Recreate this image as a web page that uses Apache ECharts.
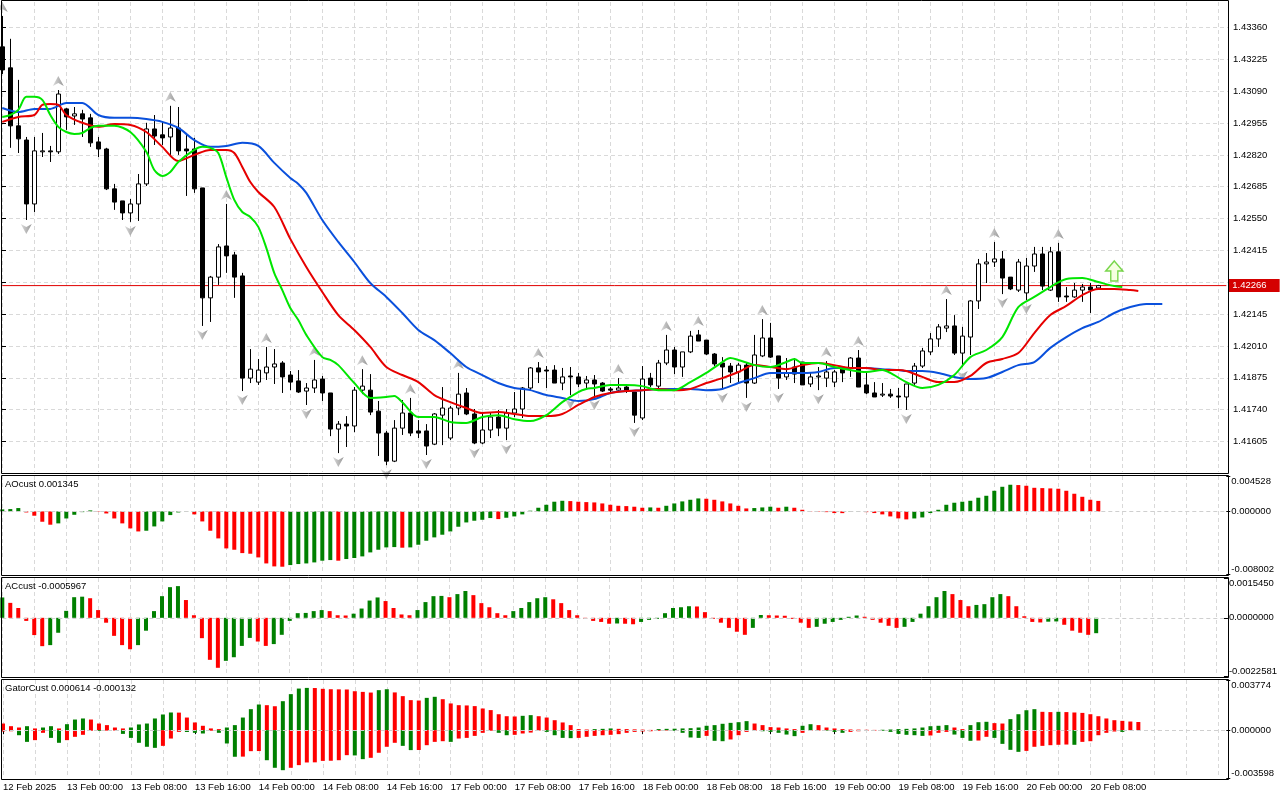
<!DOCTYPE html>
<html>
<head>
<meta charset="utf-8">
<script src="https://cdn.jsdelivr.net/npm/echarts@6/dist/echarts.min.js"></script>
<style>html,body{margin:0;padding:0;background:#fff}#chart{width:1280px;height:800px}</style>
</head>
<body>
<div id="chart"></div>
<script>
// hourly bars, index 0 = 12 Feb 16:00, one label every 8 bars
const barCount = 154;
const categories = Array.from({ length: barCount }, (_, i) => String(i));
const tickLabels = ['12 Feb 2025', '13 Feb 00:00', '13 Feb 08:00', '13 Feb 16:00', '14 Feb 00:00', '14 Feb 08:00',
  '14 Feb 16:00', '17 Feb 00:00', '17 Feb 08:00', '17 Feb 16:00', '18 Feb 00:00', '18 Feb 08:00', '18 Feb 16:00',
  '19 Feb 00:00', '19 Feb 08:00', '19 Feb 16:00', '20 Feb 00:00', '20 Feb 08:00'];

// [open, close, low, high]
const candles = [
  [1.43278,1.43180,1.43163,1.43409],[1.43189,1.42943,1.42850,1.43312],[1.42943,1.42888,1.42828,1.43138],[1.42883,1.42612,1.42544,1.42896],[1.42612,1.42837,1.42578,1.42896],
  [1.42833,1.42837,1.42811,1.42913],[1.42837,1.42833,1.42790,1.42858],[1.42833,1.43078,1.42824,1.43095],[1.43015,1.42981,1.42926,1.43019],[1.42985,1.42994,1.42947,1.43023],
  [1.42994,1.42972,1.42896,1.43011],[1.42977,1.42871,1.42854,1.42994],[1.42875,1.42845,1.42811,1.42896],[1.42845,1.42676,1.42671,1.42850],[1.42676,1.42620,1.42587,1.42697],
  [1.42625,1.42574,1.42544,1.42625],[1.42574,1.42612,1.42536,1.42633],[1.42612,1.42697,1.42540,1.42739],[1.42697,1.42930,1.42688,1.42956],[1.42930,1.42900,1.42862,1.42989],
  [1.42905,1.42892,1.42862,1.42960],[1.42896,1.42934,1.42811,1.43028],[1.42934,1.42837,1.42820,1.43023],[1.42845,1.42837,1.42646,1.42913],[1.42845,1.42676,1.42659,1.42892],
  [1.42680,1.42214,1.42095,1.42680],[1.42214,1.42302,1.42112,1.42307],[1.42302,1.42430,1.42269,1.42442],[1.42434,1.42392,1.42320,1.42612],[1.42396,1.42302,1.42214,1.42409],
  [1.42307,1.41874,1.41819,1.42320],[1.41874,1.41912,1.41853,1.41997],[1.41857,1.41908,1.41845,1.41955],[1.41896,1.41921,1.41866,1.42006],[1.41921,1.41934,1.41849,1.41997],
  [1.41938,1.41879,1.41811,1.41946],[1.41887,1.41857,1.41823,1.41904],[1.41862,1.41815,1.41811,1.41908],[1.41819,1.41832,1.41760,1.41853],[1.41832,1.41866,1.41811,1.41951],
  [1.41870,1.41811,1.41777,1.41883],[1.41811,1.41658,1.41628,1.41811],[1.41658,1.41679,1.41556,1.41692],[1.41679,1.41671,1.41582,1.41713],[1.41671,1.41823,1.41645,1.41836],
  [1.41823,1.41840,1.41806,1.41912],[1.41823,1.41730,1.41717,1.41891],[1.41734,1.41641,1.41544,1.41777],[1.41641,1.41522,1.41505,1.41650],[1.41522,1.41662,1.41518,1.41696],
  [1.41662,1.41726,1.41633,1.41781],[1.41726,1.41641,1.41628,1.41790],[1.41650,1.41641,1.41620,1.41696],[1.41650,1.41586,1.41548,1.41679],[1.41594,1.41722,1.41590,1.41726],
  [1.41717,1.41747,1.41590,1.41836],[1.41620,1.41747,1.41611,1.41756],[1.41747,1.41806,1.41717,1.41896],[1.41811,1.41722,1.41717,1.41832],[1.41722,1.41599,1.41594,1.41743],
  [1.41599,1.41654,1.41594,1.41726],[1.41654,1.41709,1.41620,1.41726],[1.41709,1.41662,1.41628,1.41739],[1.41662,1.41726,1.41611,1.41743],[1.41726,1.41743,1.41709,1.41815],
  [1.41743,1.41832,1.41705,1.41836],[1.41832,1.41917,1.41823,1.41921],[1.41917,1.41900,1.41853,1.41942],[1.41908,1.41904,1.41832,1.41925],[1.41908,1.41853,1.41853,1.41929],
  [1.41853,1.41879,1.41823,1.41917],[1.41883,1.41879,1.41802,1.41921],[1.41879,1.41849,1.41836,1.41896],[1.41853,1.41866,1.41832,1.41883],[1.41866,1.41849,1.41798,1.41887],
  [1.41853,1.41819,1.41815,1.41857],[1.41828,1.41823,1.41811,1.41836],[1.41823,1.41832,1.41815,1.41874],[1.41836,1.41823,1.41811,1.41840],[1.41815,1.41717,1.41684,1.41815],
  [1.41705,1.41870,1.41696,1.41925],[1.41874,1.41845,1.41836,1.41896],[1.41840,1.41938,1.41832,1.41951],[1.41938,1.41993,1.41929,1.42057],[1.41993,1.41921,1.41891,1.42006],
  [1.41921,1.41985,1.41879,1.41985],[1.41985,1.42052,1.41980,1.42074],[1.42057,1.42031,1.42031,1.42078],[1.42035,1.41976,1.41972,1.42035],[1.41976,1.41934,1.41925,1.41980],
  [1.41938,1.41921,1.41828,1.41963],[1.41925,1.41900,1.41853,1.41938],[1.41900,1.41929,1.41853,1.41938],[1.41929,1.41853,1.41790,1.41942],[1.41853,1.41972,1.41849,1.42057],
  [1.41968,1.42044,1.41963,1.42124],[1.42044,1.41963,1.41959,1.42108],[1.41968,1.41874,1.41828,1.41968],[1.41879,1.41896,1.41866,1.41959],[1.41921,1.41891,1.41853,1.41959],
  [1.41942,1.41845,1.41845,1.41942],[1.41849,1.41879,1.41836,1.41896],[1.41879,1.41883,1.41823,1.41921],[1.41874,1.41900,1.41836,1.41946],[1.41857,1.41900,1.41836,1.41908],
  [1.41921,1.41896,1.41857,1.41925],[1.41917,1.41959,1.41879,1.41963],[1.41959,1.41836,1.41836,1.41993],[1.41845,1.41811,1.41806,1.41896],[1.41811,1.41794,1.41794,1.41857],
  [1.41802,1.41806,1.41794,1.41853],[1.41806,1.41798,1.41790,1.41828],[1.41798,1.41794,1.41747,1.41832],[1.41794,1.41849,1.41739,1.41849],[1.41853,1.41925,1.41845,1.41938],
  [1.41925,1.41989,1.41917,1.42002],[1.41985,1.42040,1.41972,1.42065],[1.42040,1.42091,1.42006,1.42103],[1.42086,1.42095,1.42069,1.42209],[1.42095,1.41980,1.41972,1.42141],
  [1.41980,1.42052,1.41921,1.42091],[1.42048,1.42201,1.41972,1.42205],[1.42201,1.42358,1.42167,1.42379],[1.42358,1.42366,1.42277,1.42404],[1.42366,1.42379,1.42345,1.42451],
  [1.42379,1.42298,1.42230,1.42413],[1.42302,1.42252,1.42247,1.42302],[1.42247,1.42366,1.42239,1.42379],[1.42235,1.42349,1.42205,1.42383],[1.42349,1.42400,1.42324,1.42430],
  [1.42400,1.42264,1.42247,1.42430],[1.42247,1.42409,1.42243,1.42430],[1.42409,1.42218,1.42197,1.42447],[1.42222,1.42218,1.42197,1.42260],[1.42218,1.42247,1.42214,1.42277],
  [1.42247,1.42260,1.42197,1.42273],[1.42260,1.42247,1.42150,1.42277],[1.42256,1.42266,1.42252,1.42269]
];
const currentPrice = 1.42266;

// alligator lines, read as [bar, price]
const jaw = [[0,1.43019],[2,1.43002],[4,1.43015],[6,1.43015],[8,1.43040],[10,1.43040],[12,1.42989],[14,1.42977],[16,1.42977],[18,1.42972],
  [20,1.42960],[22,1.42934],[24,1.42883],[26,1.42854],[28,1.42858],[30,1.42871],[32,1.42858],[34,1.42786],[36,1.42722],[37,1.42697],
  [38,1.42659],[40,1.42544],[42,1.42451],[44,1.42366],[46,1.42277],[48,1.42218],[50,1.42150],[52,1.42078],[54,1.42035],[56,1.41980],
  [58,1.41921],[60,1.41887],[62,1.41853],[64,1.41832],[66,1.41823],[68,1.41802],[70,1.41790],[72,1.41777],[74,1.41785],[76,1.41811],
  [78,1.41819],[80,1.41823],[82,1.41828],[84,1.41828],[86,1.41828],[88,1.41823],[90,1.41828],[92,1.41853],[94,1.41874],[96,1.41896],
  [98,1.41896],[100,1.41896],[102,1.41900],[104,1.41917],[106,1.41917],[108,1.41917],[110,1.41912],[112,1.41908],[113,1.41904],[115,1.41904],
  [117,1.41896],[119,1.41879],[121,1.41870],[123,1.41874],[125,1.41900],[127,1.41929],[129,1.41942],[131,1.42002],[133,1.42048],[135,1.42086],
  [137,1.42112],[139,1.42150],[141,1.42175],[143,1.42188],[145,1.42188]];
const teeth = [[0,1.42960],[2,1.42981],[4,1.42989],[5,1.43032],[6,1.43036],[7,1.43032],[8,1.42989],[10,1.42956],[12,1.42939],[14,1.42951],
  [16,1.42947],[18,1.42917],[20,1.42854],[22,1.42794],[24,1.42820],[26,1.42841],[28,1.42841],[29,1.42828],[30,1.42769],[31,1.42705],
  [32,1.42663],[34,1.42599],[36,1.42464],[38,1.42345],[40,1.42239],[42,1.42141],[44,1.42078],[46,1.42006],[48,1.41921],[50,1.41887],
  [52,1.41857],[54,1.41802],[56,1.41772],[58,1.41747],[60,1.41726],[62,1.41730],[64,1.41722],[66,1.41713],[68,1.41713],[70,1.41722],
  [72,1.41760],[73,1.41777],[74,1.41794],[76,1.41811],[78,1.41819],[80,1.41823],[82,1.41828],[84,1.41823],[86,1.41828],[88,1.41853],
  [90,1.41874],[92,1.41900],[94,1.41929],[96,1.41921],[98,1.41912],[100,1.41929],[102,1.41938],[104,1.41929],[106,1.41917],[108,1.41917],
  [110,1.41908],[112,1.41908],[113,1.41904],[115,1.41879],[117,1.41857],[119,1.41857],[121,1.41883],[123,1.41938],[125,1.41955],[127,1.41980],
  [129,1.42065],[131,1.42141],[133,1.42180],[135,1.42226],[137,1.42252],[139,1.42252],[141,1.42247],[142,1.42243]];
const lips = [[0,1.42981],[1,1.42989],[2,1.43011],[3,1.43066],[4,1.43066],[5,1.43053],[6,1.42989],[7,1.42939],[8,1.42917],[9,1.42909],
  [10,1.42913],[11,1.42934],[12,1.42943],[14,1.42943],[16,1.42917],[18,1.42833],[19,1.42756],[20,1.42731],[21,1.42748],[22,1.42790],
  [24,1.42841],[25,1.42854],[26,1.42850],[27,1.42828],[28,1.42726],[29,1.42629],[30,1.42578],[31,1.42557],[32,1.42515],[33,1.42426],
  [34,1.42319],[35,1.42247],[36,1.42171],[37,1.42120],[38,1.42057],[40,1.41963],[41,1.41951],[42,1.41929],[44,1.41853],[46,1.41790],
  [48,1.41794],[49,1.41798],[50,1.41772],[52,1.41709],[54,1.41709],[56,1.41688],[58,1.41684],[60,1.41709],[62,1.41717],[64,1.41700],
  [66,1.41692],[68,1.41717],[70,1.41772],[72,1.41815],[73,1.41828],[74,1.41832],[76,1.41845],[78,1.41845],[80,1.41840],[82,1.41823],
  [84,1.41823],[86,1.41857],[88,1.41896],[90,1.41942],[91,1.41959],[92,1.41951],[94,1.41929],[96,1.41921],[98,1.41942],[99,1.41955],
  [100,1.41938],[102,1.41938],[104,1.41921],[106,1.41908],[108,1.41900],[110,1.41908],[111,1.41896],[113,1.41857],[115,1.41832],[117,1.41845],
  [119,1.41887],[121,1.41963],[123,1.41993],[125,1.42048],[127,1.42175],[129,1.42218],[131,1.42260],[133,1.42294],[135,1.42298],[137,1.42281],
  [139,1.42264],[140,1.42260]];

// fractal bars
const fractalUp = [0, 7, 21, 28, 33, 39, 45, 51, 57, 67, 77, 83, 87, 95, 103, 107, 118, 124, 132];
const fractalDown = [3, 16, 25, 30, 38, 42, 48, 53, 59, 63, 71, 74, 79, 90, 93, 97, 102, 113, 120, 125, 128];
const signalBar = 139;
const signalPrice = 1.42328;

const ao = [
  0.00026,0.0003,0.00043,-0.00013,-0.00055,-0.00132,-0.0017,-0.00153,-0.0009,-0.00043,
  -0.00009,0.00013,0.00004,-0.00026,-0.0009,-0.00153,-0.00217,-0.00256,-0.00247,-0.00192,
  -0.00128,-0.00047,-0.00013,0.00004,-0.00038,-0.00128,-0.00247,-0.00345,-0.00473,-0.0049,
  -0.00533,-0.00541,-0.00588,-0.00665,-0.00703,-0.00707,-0.00686,-0.00673,-0.00665,-0.00652,
  -0.0063,-0.00622,-0.0063,-0.00609,-0.00596,-0.00575,-0.00524,-0.0049,-0.0046,-0.00456,
  -0.00464,-0.0046,-0.00426,-0.00375,-0.00332,-0.00298,-0.00256,-0.00196,-0.00141,-0.00119,
  -0.00107,-0.00085,-0.00098,-0.00081,-0.00064,-0.00038,0.00009,0.00047,0.00085,0.00124,
  0.00136,0.00132,0.00124,0.00119,0.00115,0.00102,0.00085,0.00072,0.00068,0.0006,
  0.00047,0.00051,0.00047,0.00072,0.00102,0.00128,0.00149,0.00166,0.00162,0.00149,
  0.00128,0.00102,0.00072,0.00038,0.00043,0.00051,0.0006,0.00047,0.0006,0.00047,
  0.00021,-0.00004,-0.00005,-0.00009,-0.00021,-0.00022,-0.00004,-0.00003,-0.00009,-0.00021,
  -0.00038,-0.00064,-0.00089,-0.00102,-0.0009,-0.00077,-0.00021,0.00021,0.00085,0.00111,
  0.00124,0.00136,0.00175,0.002,0.00264,0.00315,0.00341,0.00337,0.00328,0.00302,
  0.00298,0.00294,0.0029,0.00264,0.00226,0.00187,0.00149,0.001345];
const ac = [
  0.00079,0.00058,0.00038,-0.00012,-0.00067,-0.0011,-0.00106,-0.00058,0.00027,0.0008,
  0.00082,0.00076,0.0003,-0.00019,-0.0007,-0.00106,-0.00122,-0.00106,-0.0005,0.00026,
  0.00084,0.00119,0.00123,0.00069,0.0001,-0.00079,-0.00163,-0.00194,-0.00167,-0.00153,
  -0.00109,-0.00078,-0.00092,-0.00109,-0.00102,-0.00066,-0.00012,0.00018,0.00019,0.00026,
  0.0003,0.00026,0.0001,0.00009,0.00016,0.00036,0.00067,0.00079,0.00065,0.00038,
  0.00013,0.0001,0.0003,0.00061,0.00084,0.00085,0.0008,0.00092,0.00104,0.00088,
  0.00057,0.00041,0.00018,0.0001,0.00026,0.00038,0.00061,0.00076,0.0008,0.00072,
  0.00057,0.0003,0.0001,-0.00004,-0.00012,-0.00016,-0.00023,-0.00022,-0.00023,-0.00025,
  -0.00016,-0.00008,-0.00004,0.00018,0.00038,0.00041,0.00045,0.00044,0.00022,-0.00004,
  -0.00019,-0.00039,-0.00054,-0.00066,-0.00039,0.00011,0.0001,0.00009,0.00008,-0.00004,
  -0.00019,-0.00039,-0.00035,-0.00023,-0.00016,-0.00008,0.00004,0.00009,0.00004,-0.00008,
  -0.00019,-0.00031,-0.00039,-0.00035,-0.00016,0.00016,0.00045,0.0008,0.00104,0.00092,
  0.00069,0.00045,0.0005,0.00053,0.0008,0.00092,0.00084,0.00045,0.00006,-0.00016,
  -0.00018,-0.00015,-0.00014,-0.00027,-0.0005,-0.00058,-0.00066,-0.0005967];
const gatorUp = [
  0.0005,0.0003,0.0002,0.0003,0.00013,0.0002,0.0003,0.00013,0.00045,0.0008,
  0.00088,0.0008,0.0005,0.00038,0.0002,0.00013,0.0002,0.00043,0.0005,0.00088,
  0.00118,0.00133,0.00132,0.00095,0.00058,0.00033,0.00013,0.00008,0.0002,0.00038,
  0.00095,0.00158,0.00193,0.00188,0.0018,0.00218,0.00271,0.00313,0.00318,0.00317,
  0.00311,0.00308,0.00307,0.00306,0.00293,0.00288,0.00283,0.00301,0.00308,0.00284,
  0.00256,0.00226,0.00223,0.00243,0.00251,0.00233,0.00201,0.00188,0.00186,0.00181,
  0.00163,0.00151,0.0012,0.00105,0.00103,0.00108,0.00113,0.00105,0.00095,0.00075,
  0.00058,0.00038,0.00008,0.00005,0.00008,0.0001,0.00013,0.0001,0.00008,0.00006,
  0.00004,0.00002,0.00008,0.0001,0.00011,0.00013,0.00015,0.0002,0.00033,0.00038,
  0.00048,0.00055,0.0006,0.00068,0.0005,0.00038,0.00023,0.0002,0.00013,0.00008,
  0.00033,0.00045,0.00038,0.0002,0.00013,0.00008,0.00005,0.00004,0.00003,0.00002,
  0.00003,0.00005,0.00008,0.0001,0.00013,0.0002,0.0003,0.00033,0.00038,0.0002,
  0.00008,0.00038,0.0006,0.00063,0.00053,0.0005,0.00083,0.0012,0.0015,0.00158,
  0.00138,0.00136,0.00138,0.00136,0.00133,0.0013,0.0012,0.00105,0.00088,0.00075,
  0.0007,0.00065,0.000614];
const gatorDown = [
  -0.0001,-0.00008,-0.00038,-0.00088,-0.00075,-0.0002,-0.00058,-0.00095,-0.00075,-0.0005,
  -0.00035,-0.00005,-0.00006,-0.00004,-0.00003,-0.00028,-0.00058,-0.00095,-0.00125,-0.00133,
  -0.00118,-0.00063,-0.00013,-0.00014,-0.0002,-0.00025,-0.00005,-0.0002,-0.001,-0.002,
  -0.00199,-0.00158,-0.00157,-0.00226,-0.00283,-0.00301,-0.00283,-0.00263,-0.00243,-0.00242,
  -0.00231,-0.0023,-0.00226,-0.00188,-0.0019,-0.00218,-0.00208,-0.0017,-0.00125,-0.00095,
  -0.00118,-0.0015,-0.00149,-0.00113,-0.00088,-0.00083,-0.00088,-0.00063,-0.00058,-0.00043,
  -0.0002,-0.00005,-0.0002,-0.00038,-0.00035,-0.00025,-0.00018,-0.00003,-0.00013,-0.00038,
  -0.00058,-0.0006,-0.00058,-0.0005,-0.00043,-0.00038,-0.00035,-0.0003,-0.0002,-0.00013,
  -0.0001,-0.00008,-0.00005,-0.00003,-0.00005,-0.0002,-0.00055,-0.00058,-0.00043,-0.0008,
  -0.00083,-0.0007,-0.00038,-0.00013,-0.00005,-0.00008,-0.00013,-0.0002,-0.00033,-0.00045,
  -0.0002,-0.00005,-0.00003,-0.00004,-0.00013,-0.0002,-0.00013,-0.00008,-0.00005,-0.00003,
  -0.00005,-0.00013,-0.00028,-0.00035,-0.00038,-0.00043,-0.0004,-0.0002,-0.00013,-0.00033,
  -0.00058,-0.0008,-0.00078,-0.0005,-0.00058,-0.00103,-0.00148,-0.00163,-0.00156,-0.00125,
  -0.00118,-0.00113,-0.0011,-0.00108,-0.0011,-0.00088,-0.00083,-0.00038,-0.0002,-0.0001,
  -0.000132];

const FONT = "'Liberation Sans', Arial, sans-serif";
const FS = 9.5;
const GRID_LINE = '#d9d9d9';
const UP = '#008000', DOWN = '#ff0000';
const PRICE_RED = '#e00000';
const L = 2.3, R = 53.7;

function rising(arr, absolute) {
  return arr.map((v, i) => {
    if (i === 0) return null;
    const a = absolute ? Math.abs(v) : v, b = absolute ? Math.abs(arr[i - 1]) : arr[i - 1];
    return a > b;
  });
}
function coloredBars(arr, absolute, firstUp) {
  const r = rising(arr, absolute);
  return arr.map((v, i) => ({ value: v, itemStyle: { color: (i === 0 ? firstUp : r[i]) ? UP : DOWN } }));
}

function catAxis(gridIndex, withLabels) {
  return {
    type: 'category', gridIndex, data: categories, boundaryGap: false,
    axisLine: { show: false },
    axisTick: withLabels ? { show: true, length: 4, interval: i => i % 8 === 0 && i <= 136, lineStyle: { color: '#000' } } : { show: false },
    axisLabel: withLabels ? {
      show: true, interval: i => i % 8 === 0 && i <= 136, align: 'left', margin: 4,
      color: '#000', fontFamily: FONT, fontSize: FS,
      formatter: (v, i) => tickLabels[i / 8] || ''
    } : { show: false },
    splitLine: { show: true, interval: i => i % 4 === 0, lineStyle: { color: GRID_LINE, type: [4, 3], width: 1 } }
  };
}

function paneAxis(gridIndex, min, max, digits) {
  const vals = [min, 0, max];
  return {
    type: 'value', gridIndex, min, max, position: 'right',
    axisLine: { show: false },
    axisTick: { show: true, length: 4, customValues: vals, lineStyle: { color: '#000' } },
    axisLabel: {
      customValues: vals, margin: 5, color: '#000', fontFamily: FONT, fontSize: FS,
      formatter: v => {
        const s = v.toFixed(digits);
        if (Math.abs(v - max) < 1e-12) return '{t|' + s + '}';
        if (Math.abs(v - min) < 1e-12) return '{b|' + s + '}';
        return s;
      },
      rich: {
        t: { padding: [10, 0, 0, 0], fontFamily: FONT, fontSize: FS, color: '#000' },
        b: { padding: [0, 0, 10, 0], fontFamily: FONT, fontSize: FS, color: '#000' }
      }
    },
    splitLine: { show: false }
  };
}

const zeroLine = {
  silent: true, symbol: 'none', label: { show: false }, precision: 6,
  lineStyle: { color: '#cfcfcf', type: [4, 3], width: 1 },
  data: [{ yAxis: 0 }]
};

const fractalFill = new echarts.graphic.LinearGradient(0, 0, 1, 0, [
  { offset: 0, color: '#d4d4d4' }, { offset: 1, color: '#7c7c7c' }
]);

const chart = echarts.init(document.getElementById('chart'));
chart.setOption({
  animation: false,
  backgroundColor: '#fff',
  grid: [
    { left: L, right: R, top: 2, height: 470 },
    { left: 2, right: 52, top: 27.5, height: 414 },
    { left: L, right: R, top: 476, height: 98 },
    { left: L, right: R, top: 578, height: 98 },
    { left: L, right: R, top: 680, height: 98 }
  ],
  xAxis: [
    catAxis(0, false),
    { type: 'value', gridIndex: 1, show: false, min: 0, max: 1 },
    catAxis(2, false),
    catAxis(3, false),
    catAxis(4, true)
  ],
  yAxis: [
    { type: 'value', gridIndex: 0, min: 1.41476, max: 1.43468, show: false },
    {
      type: 'value', gridIndex: 1, min: 1.41605, max: 1.43360, interval: 0.00135, position: 'right',
      axisLine: { show: false },
      axisTick: { show: true, length: 4, lineStyle: { color: '#000' } },
      axisLabel: {
        margin: 5, color: '#000', fontFamily: FONT, fontSize: FS,
        formatter: v => Math.abs(v - 1.4228) < 1e-7 ? '' : v.toFixed(5)
      },
      splitLine: { show: true, lineStyle: { color: GRID_LINE, type: [4, 3], width: 1 } }
    },
    paneAxis(2, -0.008002, 0.004528, 6),
    paneAxis(3, -0.0022581, 0.0015450, 7),
    paneAxis(4, -0.003598, 0.003774, 6)
  ],
  series: [
    // current price line across the pane, label at its right end
    {
      type: 'line', xAxisIndex: 0, yAxisIndex: 0, z: 1, silent: true,
      data: [[0, currentPrice], [barCount - 1, currentPrice]],
      showSymbol: false, color: PRICE_RED,
      lineStyle: { color: PRICE_RED, width: 1 },
      endLabel: {
        show: true, distance: 2, formatter: () => currentPrice.toFixed(5),
        backgroundColor: '#d40000', color: '#fff', padding: [2, 13, 1, 4], fontFamily: FONT, fontSize: FS
      }
    },
    {
      type: 'candlestick', xAxisIndex: 0, yAxisIndex: 0, data: candles, barWidth: 5, z: 2,
      itemStyle: { color: '#ffffff', color0: '#000000', borderColor: '#000000', borderColor0: '#000000', borderWidth: 1 }
    },
    {
      type: 'scatter', xAxisIndex: 0, yAxisIndex: 0, z: 3,
      data: fractalUp.map(k => [k, candles[k][3]]),
      symbol: 'path://M5,0 L10,10 L5,7 L0,10 Z', symbolSize: [11, 10], symbolOffset: [0, -9],
      itemStyle: { color: fractalFill }
    },
    {
      type: 'scatter', xAxisIndex: 0, yAxisIndex: 0, z: 3,
      data: fractalDown.map(k => [k, candles[k][2]]),
      symbol: 'path://M0,0 L5,3 L10,0 L5,10 Z', symbolSize: [11, 10], symbolOffset: [0, 9],
      itemStyle: { color: fractalFill }
    },
    { type: 'line', xAxisIndex: 0, yAxisIndex: 0, data: jaw, showSymbol: false, smooth: 0.3, z: 4, lineStyle: { color: '#0a50dc', width: 2 } },
    { type: 'line', xAxisIndex: 0, yAxisIndex: 0, data: teeth, showSymbol: false, smooth: 0.3, z: 4, lineStyle: { color: '#e60000', width: 2 } },
    { type: 'line', xAxisIndex: 0, yAxisIndex: 0, data: lips, showSymbol: false, smooth: 0.3, z: 4, lineStyle: { color: '#00e600', width: 2 } },
    {
      type: 'scatter', xAxisIndex: 0, yAxisIndex: 0, z: 5,
      data: [[signalBar, signalPrice]],
      symbol: 'path://M6,0 L12,7 L8.5,7 L8.5,14 L3.5,14 L3.5,7 L0,7 Z', symbolSize: [17, 20],
      itemStyle: { color: '#f2ffd9', borderColor: '#58cc22', borderWidth: 1.5 }
    },
    {
      type: 'bar', xAxisIndex: 2, yAxisIndex: 2, barWidth: 4,
      data: coloredBars(ao, false, true), markLine: zeroLine
    },
    {
      type: 'bar', xAxisIndex: 3, yAxisIndex: 3, barWidth: 4,
      data: coloredBars(ac, false, true), markLine: zeroLine
    },
    {
      type: 'bar', xAxisIndex: 4, yAxisIndex: 4, barWidth: 4, barGap: '-100%',
      data: coloredBars(gatorUp, true, false), markLine: zeroLine
    },
    {
      type: 'bar', xAxisIndex: 4, yAxisIndex: 4, barWidth: 4, barGap: '-100%',
      data: coloredBars(gatorDown, true, false)
    }
  ],
  graphic: [
    { type: 'rect', z: 100, silent: true, shape: { x: 1.5, y: 0.5, width: 1227, height: 473 }, style: { fill: null, stroke: '#000', lineWidth: 1 } },
    { type: 'rect', z: 100, silent: true, shape: { x: 1.5, y: 475.5, width: 1227, height: 100 }, style: { fill: null, stroke: '#000', lineWidth: 1 } },
    { type: 'rect', z: 100, silent: true, shape: { x: 1.5, y: 577.5, width: 1227, height: 100 }, style: { fill: null, stroke: '#000', lineWidth: 1 } },
    { type: 'rect', z: 100, silent: true, shape: { x: 1.5, y: 679.5, width: 1227, height: 100 }, style: { fill: null, stroke: '#000', lineWidth: 1 } },
    { type: 'text', z: 100, left: 5, top: 479, style: { text: 'AOcust ' + ao[ao.length - 1], font: FS + 'px ' + FONT, fill: '#000' } },
    { type: 'text', z: 100, left: 5, top: 581, style: { text: 'ACcust ' + ac[ac.length - 1], font: FS + 'px ' + FONT, fill: '#000' } },
    { type: 'text', z: 100, left: 5, top: 683, style: { text: 'GatorCust ' + gatorUp[gatorUp.length - 1] + ' ' + gatorDown[gatorDown.length - 1], font: FS + 'px ' + FONT, fill: '#000' } }
  ]
});
</script>
</body>
</html>
